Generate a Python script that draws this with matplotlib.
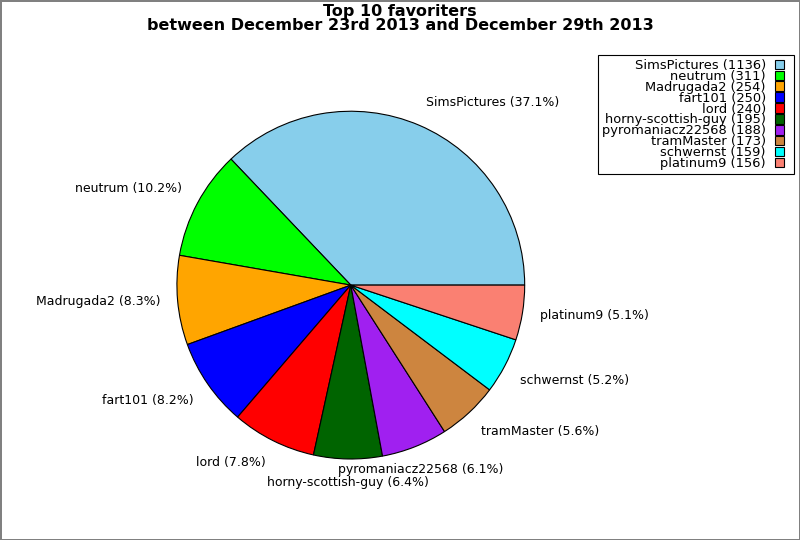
import matplotlib
matplotlib.use("Agg")
import matplotlib.pyplot as plt
from matplotlib.legend_handler import HandlerPatch
from matplotlib.patches import Rectangle
import numpy as np

names = ["SimsPictures", "neutrum", "Madrugada2", "fart101", "lord",
         "horny-scottish-guy", "pyromaniacz22568", "tramMaster", "schwernst", "platinum9"]
counts = [1136, 311, 254, 250, 240, 195, 188, 173, 159, 156]
colors = ["#87CEEB", "#00FF00", "#FFA500", "#0000FF", "#FF0000",
          "#006400", "#A020F0", "#CD853F", "#00FFFF", "#FA8072"]
title = "Top 10 favoriters\nbetween December 23rd 2013 and December 29th 2013"

total = sum(counts)
pie_labels = [f"{n} ({c / total * 100:.1f}%)" for n, c in zip(names, counts)]
legend_labels = [f"{n} ({c})" for n, c in zip(names, counts)]

fig = plt.figure(figsize=(8, 5.4), dpi=100)
fig.patch.set_edgecolor("#808080")
fig.patch.set_linewidth(2)

ax = fig.add_axes([0.221, 0.15, 0.435, 0.644])
wedges, texts = ax.pie(counts, labels=pie_labels, colors=colors, startangle=0,
                       counterclock=True, labeldistance=1.1,
                       wedgeprops=dict(edgecolor="black", linewidth=0.8),
                       textprops=dict(fontsize=9))
ax.set_xlim(-1, 1)
ax.set_ylim(-1, 1)
ax.set_aspect("equal")

# octant-based label alignment
thr = np.cos(np.radians(67.5))
for w, t in zip(wedges, texts):
    ang = np.radians((w.theta1 + w.theta2) / 2)
    c, s = np.cos(ang), np.sin(ang)
    t.set_ha("left" if c > thr else ("right" if c < -thr else "center"))
    t.set_va("bottom" if s > np.sin(np.radians(22.5)) else
             ("top" if s < -np.sin(np.radians(22.5)) else "center"))

fig.text(0.5, 0.993, title, ha="center", va="top", fontsize=11.5,
         fontweight="bold", linespacing=0.93)


def square(legend, orig_handle, xdescent, ydescent, width, height, fontsize):
    side = 0.72 * fontsize
    return Rectangle((-xdescent, -ydescent + (height - side) / 2), side, side)


leg = fig.legend(wedges, legend_labels, loc="upper right",
                 bbox_to_anchor=(794 / 800, 485 / 540), borderaxespad=0,
                 markerfirst=False, fontsize=9.4, labelspacing=-0.16,
                 handlelength=1.15, handleheight=0.7, handletextpad=0.7,
                 borderpad=0.3, fancybox=False, edgecolor="black",
                 framealpha=1,
                 handler_map={w: HandlerPatch(patch_func=square) for w in wedges})
leg.get_frame().set_linewidth(0.8)
for t in leg.get_texts():
    t.set_ha("right")

fig.savefig("out.png", dpi=100, edgecolor=fig.get_edgecolor())
